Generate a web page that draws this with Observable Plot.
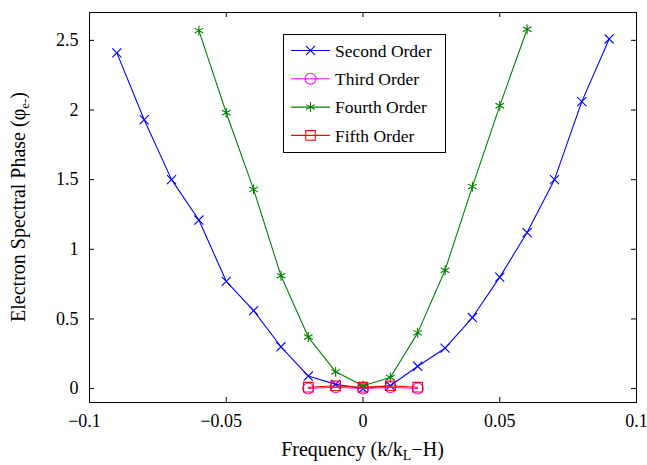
<!DOCTYPE html>
<html>
<head>
<meta charset="utf-8">
<script src="https://cdn.jsdelivr.net/npm/d3@7"></script>
<script src="https://cdn.jsdelivr.net/npm/@observablehq/plot@0.6"></script>
<style>
  html, body { margin: 0; padding: 0; background: #fff; }
  svg text { font-family: "Liberation Serif", "Times New Roman", "DejaVu Serif", serif !important; }
</style>
</head>
<body>
<div id="chart"></div>
<script>
// ---- data ----
const freq2 = [-0.09, -0.08, -0.07, -0.06, -0.05, -0.04, -0.03, -0.02, -0.01, 0, 0.01, 0.02, 0.03, 0.04, 0.05, 0.06, 0.07, 0.08, 0.09];
const secondOrder = [2.41, 1.93, 1.50, 1.21, 0.77, 0.56, 0.30, 0.09, 0.03, 0.0, 0.02, 0.16, 0.29, 0.51, 0.80, 1.12, 1.50, 2.06, 2.51];
const freq4 = [-0.06, -0.05, -0.04, -0.03, -0.02, -0.01, 0, 0.01, 0.02, 0.03, 0.04, 0.05, 0.06];
const fourthOrder = [2.57, 1.98, 1.43, 0.81, 0.37, 0.12, 0.02, 0.08, 0.40, 0.85, 1.45, 2.03, 2.58];
const freq35 = [-0.02, -0.01, 0, 0.01, 0.02];
const thirdOrder = [0.0, 0.01, 0.0, 0.01, 0.0];
const fifthOrder = [0.01, 0.02, 0.01, 0.02, 0.01];
const seriesNames = ["Second Order", "Third Order", "Fourth Order", "Fifth Order"];
const seriesColors = ["#0000ff", "#ff00ff", "#008000", "#ff0000"];
const seriesSymbols = ["times", "circle", "asterisk", "square"];
const xTicks = [-0.1, -0.05, 0, 0.05, 0.1];
const yTicks = [0, 0.5, 1, 1.5, 2, 2.5];

const zip = (xs, ys) => xs.map((x, i) => ({x, y: ys[i]}));
const series = [
  zip(freq2, secondOrder),
  zip(freq35, thirdOrder),
  zip(freq4, fourthOrder),
  zip(freq35, fifthOrder)
];
const symbolR = {times: 4.2, circle: 5.5, asterisk: 4.7, square: 5.4};
const fmt = d => String(d).replace("-", "\u2212");
const FONT = "'Liberation Serif', 'Times New Roman', 'DejaVu Serif', serif";

const W = 647, H = 465;
const mL = 89, mR = 11, mT = 12, mB = 63;
const plotW = W - mL - mR, plotH = H - mT - mB;
const tick = 5;

const marks = [
  Plot.frame({stroke: "black", strokeWidth: 1}),
  Plot.ruleX(xTicks, {insetTop: plotH - tick, stroke: "black"}),
  Plot.ruleX(xTicks, {insetBottom: plotH - tick, stroke: "black"}),
  Plot.ruleY(yTicks, {insetRight: plotW - tick, stroke: "black"}),
  Plot.ruleY(yTicks, {insetLeft: plotW - tick, stroke: "black"}),
  Plot.axisX(xTicks.filter(d => d < 0), {tickSize: 0, tickPadding: 12, label: null, fontSize: 18, fontFamily: FONT, tickFormat: fmt, dx: -5}),
  Plot.axisX(xTicks.filter(d => d >= 0), {tickSize: 0, tickPadding: 12, label: null, fontSize: 18, fontFamily: FONT, tickFormat: fmt}),
  Plot.axisY(yTicks, {tickSize: 0, tickPadding: 11, label: null, fontSize: 18, fontFamily: FONT, tickFormat: fmt})
];
series.forEach((data, i) => {
  marks.push(Plot.line(data, {x: "x", y: "y", stroke: seriesColors[i], strokeWidth: 1.1}));
  marks.push(Plot.dot(data, {x: "x", y: "y", symbol: seriesSymbols[i], r: symbolR[seriesSymbols[i]], stroke: seriesColors[i], strokeWidth: 1.1, fill: "none"}));
});

const chart = Plot.plot({
  width: W, height: H,
  marginLeft: mL, marginRight: mR, marginTop: mT, marginBottom: mB,
  x: {domain: [-0.1, 0.1]},
  y: {domain: [-0.1, 2.7]},
  style: {fontFamily: FONT, fontSize: "18px", background: "#fff", color: "black"},
  marks
});
document.getElementById("chart").appendChild(chart);

const svg = d3.select(chart);
// axis labels
const xl = svg.append("text")
  .attr("x", mL + plotW / 2).attr("y", 456)
  .attr("text-anchor", "middle").attr("font-family", FONT)
  .attr("font-size", 20).attr("fill", "black");
xl.append("tspan").text("Frequency (k/k");
xl.append("tspan").attr("font-size", 14).attr("dy", 4).text("L");
xl.append("tspan").attr("dy", -4).text("\u2212H)");

const yl = svg.append("text")
  .attr("transform", `translate(25,${mT + plotH / 2}) rotate(-90)`)
  .attr("text-anchor", "middle").attr("font-family", FONT)
  .attr("font-size", 20).attr("fill", "black");
yl.append("tspan").text("Electron Spectral Phase (\u03c6");
yl.append("tspan").attr("font-size", 13).attr("dy", 4).text("e-");
yl.append("tspan").attr("dy", -4).text(")");

// legend
const symMap = {times: d3.symbolTimes, circle: d3.symbolCircle, asterisk: d3.symbolAsterisk, square: d3.symbolSquare};
const lg = svg.append("g").attr("text-anchor", "start");
lg.append("rect").attr("x", 283.5).attr("y", 34.5).attr("width", 162).attr("height", 118)
  .attr("fill", "white").attr("stroke", "black");
seriesNames.forEach((name, i) => {
  const y = 50.5 + i * 28.3;
  lg.append("line").attr("x1", 291).attr("x2", 330).attr("y1", y).attr("y2", y)
    .attr("stroke", seriesColors[i]).attr("stroke-width", 1.1);
  const r = symbolR[seriesSymbols[i]];
  lg.append("path").attr("transform", `translate(310.5,${y})`)
    .attr("d", d3.symbol(symMap[seriesSymbols[i]], Math.PI * r * r)())
    .attr("fill", "none").attr("stroke", seriesColors[i]).attr("stroke-width", 1.1);
  lg.append("text").attr("x", 335).attr("y", y).attr("dy", "0.35em").attr("text-anchor", "start")
    .attr("font-family", FONT).attr("font-size", 17.5).attr("fill", "black").text(name);
});
</script>
</body>
</html>
